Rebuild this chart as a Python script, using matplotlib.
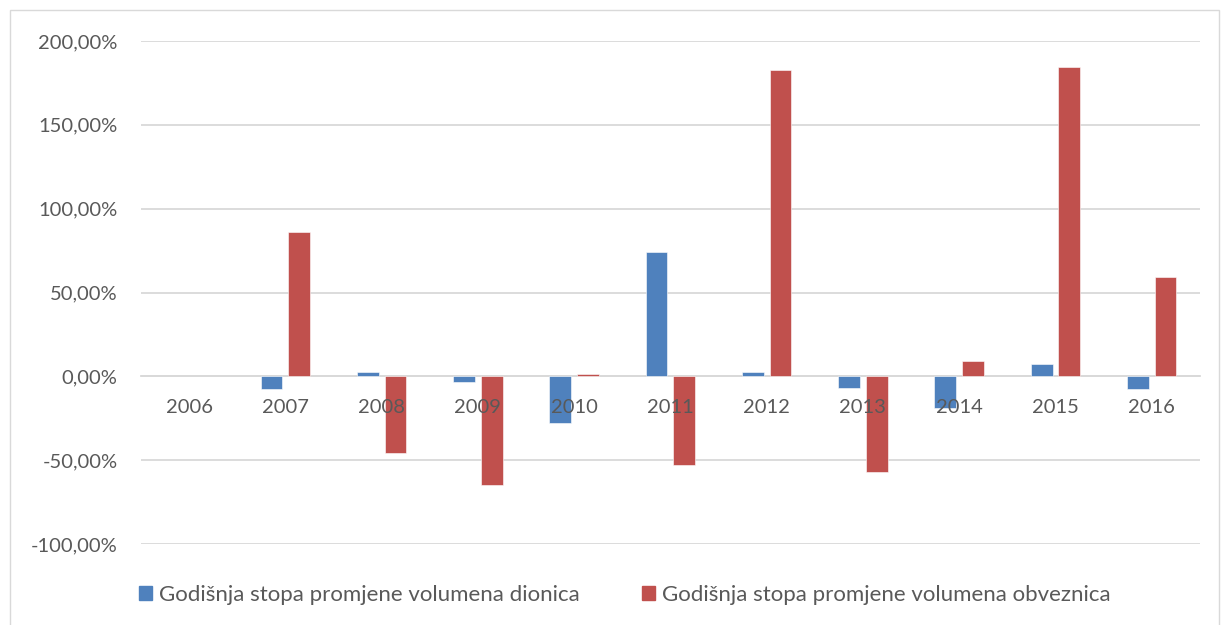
import matplotlib
matplotlib.use("Agg")
import matplotlib.pyplot as plt
import numpy as np
from matplotlib.ticker import FuncFormatter
from matplotlib.patches import Rectangle, Patch

years = ["2006", "2007", "2008", "2009", "2010", "2011", "2012", "2013", "2014", "2015", "2016"]
dionice = [np.nan, -7.8, 2.4, -3.2, -28.0, 74.0, 2.6, -7.0, -19.0, 7.6, -7.3]
obveznice = [np.nan, 86.0, -46.0, -65.0, 1.4, -53.0, 183.0, -57.0, 9.0, 184.5, 59.0]
labels = ["Godišnja stopa promjene volumena dionica", "Godišnja stopa promjene volumena obveznica"]

plt.rcParams['font.family'] = ['Lato', 'DejaVu Sans']
txt = '#595959'
grid = '#d9d9d9'

fig = plt.figure(figsize=(12.23, 6.25), dpi=100)
ax = fig.add_axes([0.1153, 0.1296, 0.981 - 0.1153, 0.9344 - 0.1296])

x = np.arange(len(years))
w = 0.228
gap = 0.06
ax.bar(x - (w + gap) / 2, dionice, w, color='#4F81BD', edgecolor='white', linewidth=0.4, zorder=3)
ax.bar(x + (w + gap) / 2, obveznice, w, color='#C0504D', edgecolor='white', linewidth=0.4, zorder=3)

ax.set_xlim(-0.5, len(years) - 0.5)
ax.set_ylim(-100, 200)
ax.set_yticks([-100, -50, 0, 50, 100, 150, 200])
ax.yaxis.set_major_formatter(FuncFormatter(lambda v, p: f"{v:.2f}".replace('.', ',') + "%"))
ax.set_xticks(x)
ax.set_xticklabels(years)
ax.grid(axis='y', color=grid, linewidth=1.3, zorder=0)
ax.set_axisbelow(False)
ax.xaxis.set_zorder(5)
ax.yaxis.set_zorder(0.5)
for s in ['top', 'right', 'left']:
    ax.spines[s].set_visible(False)
ax.spines['bottom'].set_position(('data', 0))
ax.spines['bottom'].set_color(grid)
ax.spines['bottom'].set_linewidth(1.3)
ax.spines['bottom'].set_zorder(2)
ax.tick_params(axis='x', length=0, pad=16, labelsize=14.5, labelcolor=txt)
ax.tick_params(axis='y', length=0, pad=17, labelsize=14.5, labelcolor=txt)

handles = [Patch(color='#4F81BD'), Patch(color='#C0504D')]
fig.legend(handles, labels, loc='center', bbox_to_anchor=(0.511, 0.048), ncol=2, frameon=False,
           fontsize=16, labelcolor=txt, handlelength=0.6, handleheight=0.6, handletextpad=0.3,
           columnspacing=2.8)

fig.patches.append(Rectangle((10 / 1223, -0.01), 1 - 10 / 1223 - 0.003, 1 - 10 / 625 + 0.01,
                             transform=fig.transFigure, fill=False, edgecolor='#d9d9d9', linewidth=1))

fig.savefig("out.png", dpi=100)
